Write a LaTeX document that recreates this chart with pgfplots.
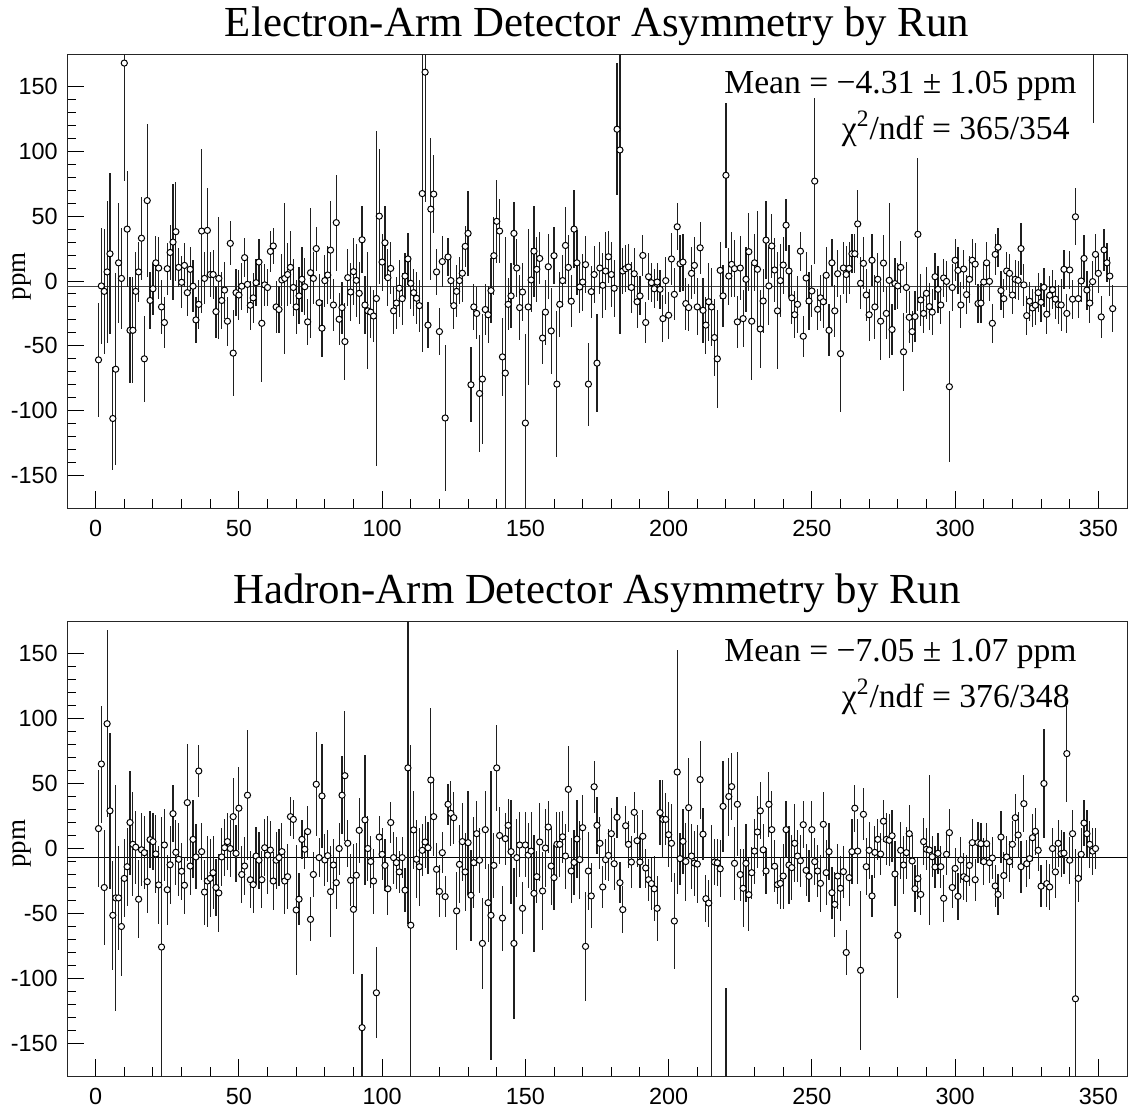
\documentclass[border=0pt]{standalone}
\usepackage{fontspec}
\setmainfont{Liberation Serif}
\newfontfamily\tickfont{Liberation Sans}
\usepackage{pgfplots}
\usepackage{pgfplotstable}
\pgfplotsset{compat=1.18}

\pgfplotstableread{
x y e
1 -60.8 44
2 -3.8 45
3 -8 48
4 7 55
5 21 62
6 -106 40
7 -68 74
8 14 46
9 2 39
10 168 91
11 40 45
12 -38 41
13 -38 41
14 -8 30
15 7 23
16 33 32
17 -60 33
18 62 59
19 -15 22
20 -6 20
21 14 21
22 10 24
23 -20 21
24 -32 20
25 9.5 20
26 22 21
27 30 45
28 38 38
29 10.5 15
30 -1 20
31 12 17
32 -9 18
33 9 17
34 -4 20
35 -30 18
36 -18 19
37 38.5 63
38 2 20
39 39 33
40 5 17
41 5 19
42 -23.6 20
43 2 47
44 -15 22
45 -7 22
46 -31 19
47 29 17
48 -55.6 33
49 -9 18
50 -10.8 19
51 -4 18
52 18 15
53 -2.6 22
54 -18.7 19
55 -13 19
56 -1.3 18
57 14.6 18
58 -32.6 45
59 -3 16
60 -5 14
61 22.8 16
62 27 14
63 -20 20
64 -22 18
65 0.8 20
66 2 58
67 5 24
68 10.5 28
69 -5 22
70 -20 21
71 -11.5 22
72 1.3 25
73 -4.4 22
74 -31.5 18
75 6.4 50
76 2 20
77 25 17
78 -16.7 22
79 -36.4 22
80 0.3 20
81 4.6 22
82 23.8 38
83 -18.5 20
84 45 37
85 -29.5 20
86 -20.5 20
87 -46.7 30
88 2.6 22
89 -8.5 22
90 7.2 26
91 0.5 28
92 -9.5 24
93 31.8 26
94 -18.5 22
95 -23 45
96 -24 20
97 -27 20
98 -13.5 129
99 50 52
100 14.6 22
101 29.5 28
102 2.6 22
103 9.7 20
104 -23 18
105 -17 20
106 -5.6 22
107 -13.6 20
108 3.8 18
109 17 20
110 -1.8 20
111 -9 18
112 -13.3 20
113 -19 20
114 67.4 122
115 161 100
116 -34 18
117 55.4 55
118 67 30
119 7 18
120 -39 18
121 15 20
122 -105.6 56
123 18.5 15
124 0.3 18
125 -19 18
126 -8 20
127 0.3 18
128 6 22
129 26.7 16
130 36.7 33
131 -80 29
132 -20 18
133 -25 20
134 -86.7 45
135 -75.6 50
136 -22 20
137 -26 22
138 -7.4 25
139 19.5 30
140 46 32
141 38.5 25
142 -58.5 30
143 -71 105
144 -18 20
145 -11.5 25
146 36.7 24
147 10 22
148 -20.5 25
149 -8.5 22
150 -109.5 69
151 -20 60
152 0.8 25
153 23 35
154 9 25
155 17.4 20
156 -44 20
157 -24 25
158 11 25
159 -38.5 33
160 19.5 22
161 -79.5 56
162 -18 25
163 0.3 20
164 27.4 30
165 10.5 25
166 -15.6 20
167 40 30
168 14 25
169 -4.6 20
170 -0.8 22
171 12.6 22
172 -79.5 32
173 -8.2 20
174 5 22
175 -63.3 38
176 10 20
177 -3.3 25
178 7.7 30
179 18.7 20
180 5 25
181 -5.6 22
182 117 51
183 101 142
184 7.7 18
185 9.5 18
186 10.8 18
187 -5 20
188 5.6 20
189 -16 20
190 -11.5 15
191 19.7 16
192 -32 16
193 3.3 18
194 -1.3 15
195 -6 15
196 -0.8 15
197 -6.4 15
198 -29 18
199 0.3 18
200 -26.4 18
201 17 20
202 -10.3 20
203 41.8 18
204 13.3 22
205 14.6 22
206 -17.4 20
207 -20.5 18
208 5.9 20
209 12 22
210 -20 22
211 25.6 20
212 -22.6 25
213 -34 22
214 -16 30
215 -20 30
216 -43.6 30
217 -60 38
218 8.2 22
219 -11.5 24
220 81.5 56
221 3.8 22
222 12.8 25
223 9.5 22
224 -31.5 20
225 10 25
226 -29 22
227 1.3 25
228 22.6 30
229 -31 45
230 14 22
231 9 45
232 -37 30
233 -15.4 25
234 31.5 30
235 -3.8 30
236 27 25
237 8.5 25
238 -23 45
239 0.3 28
240 12.3 22
241 43 20
242 7.7 20
243 -13 20
244 -26 18
245 -18 22
246 23 15
247 -42.6 16
248 2.3 20
249 -15.4 22
250 -7.7 20
251 77 64
252 -21.8 16
253 -13 18
254 -16 20
255 4.4 22
256 -38 20
257 14 18
258 -23 20
259 5.6 18
260 -56 45
261 10 20
262 5 22
263 9.7 20
264 21 15
265 21 15
266 44 26
267 -1.8 20
268 13.6 20
269 -10.8 20
270 -26 20
271 16 20
272 -20 25
273 1.3 20
274 -31 30
275 13.8 22
276 -25 20
277 0.5 60
278 -37.4 20
279 -2 20
280 -3.8 18
281 10.5 20
282 -54.6 30
283 -5 20
284 -28 20
285 -39 16
286 -27.4 20
287 36 59
288 -14.6 20
289 -25 15
290 -9.5 20
291 -19.7 18
292 -24 18
293 3.3 18
294 -6.4 18
295 -18.5 15
296 2.3 15
297 -0.3 16
298 -81.5 58
299 -5 18
300 16 16
301 8.2 18
302 -18.5 18
303 9.2 15
304 -10.5 15
305 1.3 18
306 16 16
307 13 16
308 -17.4 15
309 -17 15
310 -0.8 15
311 14 16
312 -0.3 15
313 -32.6 15
314 20.5 16
315 26 15
316 -7.4 15
317 -13.6 15
318 7.7 15
319 5.9 15
320 -10.8 15
321 1.3 15
322 0.5 15
323 25 20
324 -3 16
325 -26.7 15
326 -15.6 15
327 -20.8 15
328 -18.7 15
329 -9 15
330 -16.4 15
331 -4.9 15
332 -25.6 15
333 -11 15
334 -6.7 15
335 -14 15
336 -18.2 15
337 -18.5 20
338 9 15
339 -25 15
340 8.5 15
341 -14 15
342 49.5 22
343 -13.6 15
344 0 16
345 17.4 18
346 -7 15
347 -17 15
348 -0.5 16
348.3 230 108
349 20.5 16
350 5.9 15
351 -27.7 16
352 24 16
353 14 15
354 3.8 15
355 -21.3 18
}\topdata

\pgfplotstableread{
x y e
1 15.3 45
2 65 45
3 -30 44
4 96 72
5 29 60
6 -51.4 42
7 -38 87
8 -38 40
9 -60 38
10 -23 30
11 -14 30
12 20 40
13 3.2 40
14 1 28
15 -39 30
16 -1 28
17 -3.2 28
18 -25.5 24
19 6.8 22
20 5.3 22
21 -4.2 30
22 -28 30
23 -75.8 100
24 2.7 28
25 -31.7 27
26 -12.5 30
27 26.8 22
28 -2.9 25
29 -8.3 28
30 -17.5 22
31 -28.3 22
32 35.3 45
33 -13.5 22
34 7 30
35 -6.5 25
36 59.6 20
37 -2.4 22
38 -33.5 25
39 -25 35
40 -23 30
41 -18.6 28
42 -30 22
43 -34.2 30
44 -6.5 22
45 0.6 22
46 5.3 22
47 0 22
48 24.5 30
49 -3.7 22
50 31 32
51 -20 22
52 -13.5 22
53 41 50
54 -24 22
55 -27.8 22
56 -5.8 22
57 -9 22
58 -24 22
59 0.6 22
60 -5 30
61 -1.2 22
62 -25 22
63 -9 22
64 -7 22
65 -2.4 22
66 -25 25
67 -21.7 25
68 24.5 15
69 22.4 15
70 -47.3 50
71 -39 20
72 7 15
73 -0.6 15
74 13 20
75 -54.5 17
76 -20 17
77 49.4 40
78 -7 15
79 40.4 40
80 -8.8 20
81 -5.5 20
82 -33.2 35
83 -12.7 20
84 -26.3 20
85 0 20
86 41 30
87 56 50
88 4 18
89 -24.5 20
90 -46.8 50
91 -20.6 25
92 14 25
93 -137.8 41
94 22 50
95 0 25
96 -10 20
97 -25 25
98 -111 35
99 8.8 16
100 -4.5 20
101 -13 20
102 -31 20
103 20 16
104 -7 20
105 -10.9 20
106 -18 16
107 -7 16
108 -32 17
109 62 120
110 -59 139
111 14.3 30
112 -8.3 30
113 -14 30
114 -1.4 20
115 5 20
116 0.6 20
117 52.7 55
118 24.5 30
119 -16 20
120 -33 20
121 -3.2 16
122 -37 16
123 34 16
124 27 25
125 23.7 20
126 -48 30
127 -12.2 30
128 5.3 30
129 -18 30
130 4.5 40
131 -36 35
132 -10.9 35
133 11.4 25
134 -9 25
135 -73 35
136 14.5 30
137 -41.7 30
138 -51.4 111
139 -13 25
140 62 33
141 10 22
142 -53.5 25
143 7.6 20
144 17.8 20
145 -2.4 40
146 -73 58
147 -7 30
148 2.7 25
149 -46 20
150 2.7 25
151 -5 25
152 -2 30
153 -34.5 45
154 -21.7 20
155 5 30
156 -32.7 30
157 0.4 30
158 16.5 20
159 -13.5 30
160 -22.4 25
161 3.2 25
162 3.2 25
163 9 20
164 -5.8 25
165 45.5 33
166 -17.3 25
167 -10.7 25
168 7.3 30
169 -8.6 30
170 16 25
171 -75.3 42
172 -17.3 30
173 -36.5 25
174 47.5 20
175 17.8 22
176 4 20
177 -29.6 16
178 -8.6 16
179 -5.3 20
180 11.4 20
181 -11.7 20
182 24 16
183 -26.3 16
184 -47 18
185 17.5 15
186 3.2 18
187 -10.4 20
188 27.8 16
189 6 20
190 -10.4 20
191 9.4 20
192 -15 15
193 -24 16
194 -27 20
195 -31 25
196 -46 25
197 27.6 25
198 22.4 30
199 22.4 20
200 10.6 25
201 4 30
202 -55.8 37
203 58.8 94
204 -7.8 20
205 5.5 25
206 -10 30
207 31.4 38
208 -5.8 25
209 -11.2 25
210 -12 30
211 53 30
212 11 20
213 -38.6 18
214 -42 18
215 -210 228
216 -10.4 18
217 -11 18
218 -15.6 22
219 32.4 35
220 -210 103
221 40 30
222 47.6 26
223 -11.4 28
224 34 40
225 -20 20
226 -30.6 30
227 -11.4 30
228 -35.5 28
229 -18.6 20
230 -2 25
231 12.7 28
232 29 22
233 -1 20
234 -17.3 18
235 34 25
236 14.5 30
237 -13.7 20
238 -27.8 15
239 -26.8 20
240 -21.2 25
241 14.5 22
242 -12.7 30
243 -14.7 25
244 4 30
245 -5.8 20
246 -9.4 20
247 18.3 18
248 -16.8 20
249 -21.4 20
250 14.5 22
251 -10.1 18
252 -17.3 20
253 -26.8 22
254 18.6 25
255 -18.6 25
256 -2.4 22
257 -34 20
258 -43 25
259 -21.2 25
260 -30.6 25
261 -17.8 20
262 -80 17
263 -22.4 22
264 -2.4 25
265 31 18
266 -2 25
267 -93.7 61
268 26.3 20
269 -14 22
270 -1.4 22
271 -36.5 16
272 -3 20
273 7 16
274 -4.2 16
275 21 16
276 7 20
277 6.3 20
278 9.8 20
279 -19.6 25
280 -66.8 48
281 -1.4 22
282 -12.7 22
283 -3.2 20
284 11.4 22
285 -9.6 20
286 -30.9 18
287 -23.2 16
288 -35.3 16
289 5.3 18
290 -0.6 16
291 -1.2 58
292 -6.3 16
293 -14.2 16
294 -3.7 16
295 -14 16
296 -38.3 18
297 -4.5 16
298 12.2 18
299 -30 16
300 -15.3 16
301 -36.8 18
302 -8.8 18
303 -21.7 18
304 -23.2 18
305 -13 16
306 4.5 18
307 -24 16
308 4.5 16
309 3.7 16
310 -10.1 18
311 3.7 16
312 -10.9 16
313 -7.3 16
314 -28.8 16
315 -35.3 16
316 8.8 20
317 -20.8 18
318 -6.5 16
319 -10.1 16
320 3.2 18
321 23.7 18
322 10.4 18
323 -14 20
324 34.5 22
325 -11.7 18
326 -7.8 16
327 8.3 18
328 13.2 18
329 -1.4 16
330 -29 16
331 50 42
332 -27 18
333 -29.6 18
334 0 16
335 -18 20
336 4 18
337 -4 18
338 -3.5 16
339 73 37
340 -9 18
341 11.4 18
342 -115.6 115
343 -23 18
344 -4.5 20
345 19.6 18
346 11.4 18
347 3.2 18
348 -2 18
349 0 16
}\botdata

\pgfplotsset{
  rootstyle/.style={
    scale only axis, width=530pt,
    xmin=-10, xmax=360, ymin=-175, ymax=175,
    xtick={0,50,...,350}, minor x tick num=4,
    ytick={-150,-100,...,150}, minor y tick num=4,
    tick align=inside, tick pos=left,
    major tick length=8.5pt, minor tick length=4.3pt,
    every tick/.style={black, line width=0.5pt},
    axis line style={black!85, line width=0.5pt},
    /pgf/number format/assume math mode=true,
    ticklabel style={font=\tickfont\fontsize{11.7}{14}\selectfont},
    yticklabel style={xshift=-1.1pt},
    xticklabel style={yshift=-2.3pt},
    ylabel={ppm},
    ylabel style={at={(axis description cs:-0.0425,0.51)}, anchor=center, font=\fontsize{13.5}{16}\selectfont},
    every axis title/.style={at={(axis description cs:0.5,1)}, anchor=base, yshift=9pt, font=\fontsize{21.4}{25}\selectfont},
    clip=true,
  },
  datastyle/.style={
    only marks, mark=*, mark size=1.55pt,
    mark options={fill=white, draw=black, line width=0.5pt},
    error bars/.cd, y dir=both, y explicit, error mark=none,
    error bar style={line width=0.6pt, black!88},
  },
}

\begin{document}
\begin{tikzpicture}
\useasboundingbox (0,0) rectangle (564pt,555pt);
\begin{axis}[rootstyle, at={(33.5pt,301pt)}, anchor=south west, height=227pt,
  title={Electron-Arm Detector Asymmetry by Run}]
\addplot[black!75, line width=0.5pt, forget plot] coordinates {(-10,-4.31) (360,-4.31)};
\addplot[datastyle] table[x=x, y=y, y error=e] {\topdata};
\node[anchor=base east, font=\fontsize{16.8}{19}\selectfont, inner sep=0pt] at (axis description cs:0.9528,1) [yshift=-19.5pt] {Mean = −4.31 ± 1.05 ppm};
\node[anchor=base east, font=\fontsize{16.8}{19}\selectfont, inner sep=0pt] at (axis description cs:0.9462,1) [yshift=-42.5pt] {χ\textsuperscript{2}/ndf = 365/354};
\end{axis}
\begin{axis}[rootstyle, at={(33.5pt,17pt)}, anchor=south west, height=227.5pt,
  title={Hadron-Arm Detector Asymmetry by Run}]
\addplot[black, line width=0.5pt, forget plot] coordinates {(-10,-7.05) (360,-7.05)};
\addplot[datastyle] table[x=x, y=y, y error=e] {\botdata};
\node[anchor=base east, font=\fontsize{16.8}{19}\selectfont, inner sep=0pt] at (axis description cs:0.9528,1) [yshift=-20pt] {Mean = −7.05 ± 1.07 ppm};
\node[anchor=base east, font=\fontsize{16.8}{19}\selectfont, inner sep=0pt] at (axis description cs:0.9462,1) [yshift=-43pt] {χ\textsuperscript{2}/ndf = 376/348};
\end{axis}
\end{tikzpicture}
\end{document}
